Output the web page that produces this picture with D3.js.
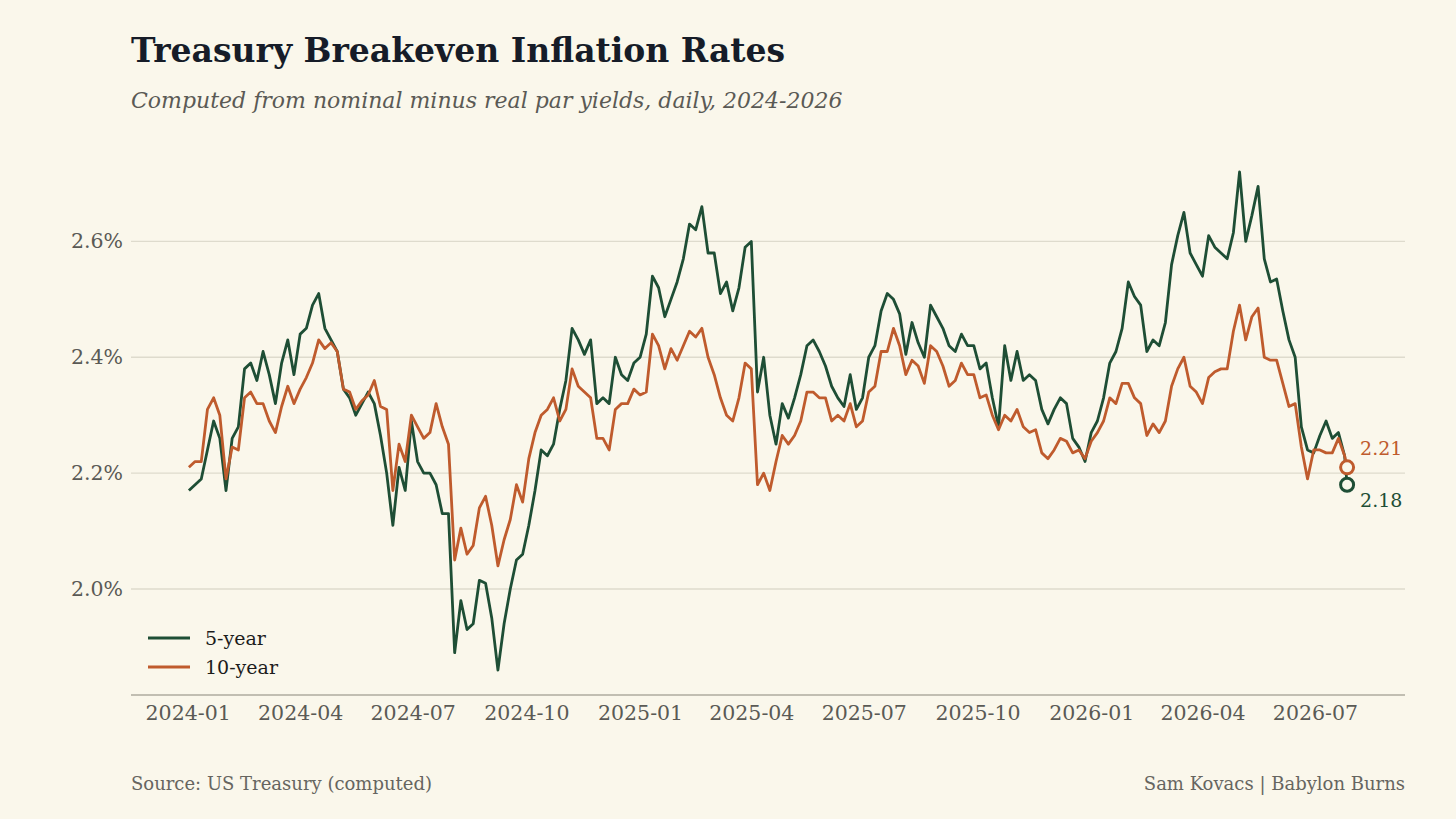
<!DOCTYPE html>
<html><head><meta charset="utf-8">
<script src="https://cdn.jsdelivr.net/npm/d3@7"></script>
<style>
html,body{margin:0;padding:0;background:#faf7eb;}
svg{display:block;}
text{font-family:"DejaVu Serif",serif;}
</style></head><body>
<svg id="chart" width="1456" height="819"></svg>
<script>
// ---- data ----
const startDate = "2024-01-02";
const stepDays = 5;
const endDate = "2026-07-27";
const seriesNames = ["5-year", "10-year"];
const fiveYear = [
  2.17,2.18,2.19,2.24,2.29,2.26,2.17,2.26,2.28,2.38,
  2.39,2.36,2.41,2.37,2.32,2.39,2.43,2.37,2.44,2.45,
  2.49,2.51,2.45,2.43,2.41,2.345,2.33,2.30,2.32,2.34,
  2.32,2.265,2.20,2.11,2.21,2.17,2.29,2.22,2.20,2.20,
  2.18,2.13,2.13,1.89,1.98,1.93,1.94,2.015,2.01,1.95,
  1.86,1.94,2.00,2.05,2.06,2.11,2.17,2.24,2.23,2.25,
  2.31,2.36,2.45,2.43,2.405,2.43,2.32,2.33,2.32,2.40,
  2.37,2.36,2.39,2.40,2.44,2.54,2.52,2.47,2.50,2.53,
  2.57,2.63,2.62,2.66,2.58,2.58,2.51,2.53,2.48,2.52,
  2.59,2.60,2.34,2.40,2.30,2.25,2.32,2.295,2.33,2.37,
  2.42,2.43,2.41,2.385,2.35,2.33,2.315,2.37,2.31,2.33,
  2.40,2.42,2.48,2.51,2.50,2.475,2.405,2.46,2.425,2.40,
  2.49,2.47,2.45,2.42,2.41,2.44,2.42,2.42,2.38,2.39,
  2.33,2.28,2.42,2.36,2.41,2.36,2.37,2.36,2.31,2.285,
  2.31,2.33,2.32,2.26,2.245,2.22,2.27,2.29,2.33,2.39,
  2.41,2.45,2.53,2.505,2.49,2.41,2.43,2.42,2.46,2.56,
  2.61,2.65,2.58,2.56,2.54,2.61,2.59,2.58,2.57,2.615,
  2.72,2.60,2.645,2.695,2.57,2.53,2.535,2.48,2.43,2.40,
  2.28,2.24,2.235,2.265,2.29,2.26,2.27,2.23,
  2.18
];
const tenYear = [
  2.21,2.22,2.22,2.31,2.33,2.30,2.19,2.245,2.24,2.33,
  2.34,2.32,2.32,2.29,2.27,2.315,2.35,2.32,2.345,2.365,
  2.39,2.43,2.415,2.425,2.41,2.345,2.34,2.31,2.325,2.335,
  2.36,2.315,2.31,2.17,2.25,2.22,2.30,2.28,2.26,2.27,
  2.32,2.28,2.25,2.05,2.105,2.06,2.075,2.14,2.16,2.11,
  2.04,2.085,2.12,2.18,2.15,2.225,2.27,2.30,2.31,2.33,
  2.29,2.31,2.38,2.35,2.34,2.33,2.26,2.26,2.24,2.31,
  2.32,2.32,2.345,2.335,2.34,2.44,2.42,2.38,2.415,2.395,
  2.42,2.445,2.435,2.45,2.40,2.37,2.33,2.30,2.29,2.33,
  2.39,2.38,2.18,2.20,2.17,2.22,2.265,2.25,2.265,2.29,
  2.34,2.34,2.33,2.33,2.29,2.30,2.29,2.32,2.28,2.29,
  2.34,2.35,2.41,2.41,2.45,2.42,2.37,2.395,2.385,2.355,
  2.42,2.41,2.385,2.35,2.36,2.39,2.37,2.37,2.33,2.335,
  2.30,2.275,2.30,2.29,2.31,2.28,2.27,2.275,2.235,2.225,
  2.24,2.26,2.255,2.235,2.24,2.225,2.255,2.27,2.29,2.33,
  2.32,2.355,2.355,2.33,2.32,2.265,2.285,2.27,2.29,2.35,
  2.38,2.40,2.35,2.34,2.32,2.365,2.375,2.38,2.38,2.445,
  2.49,2.43,2.47,2.485,2.40,2.395,2.395,2.355,2.315,2.32,
  2.245,2.19,2.24,2.24,2.235,2.235,2.26,2.23,
  2.21
];
const yTicks = [2.0, 2.2, 2.4, 2.6];
const xTickLabels = ["2024-01","2024-04","2024-07","2024-10","2025-01","2025-04","2025-07","2025-10","2026-01","2026-04","2026-07"];

const titleText = "Treasury Breakeven Inflation Rates";
const subtitleText = "Computed from nominal minus real par yields, daily, 2024-2026";
const sourceText = "Source: US Treasury (computed)";
const creditText = "Sam Kovacs | Babylon Burns";

// ---- styles ----
const colors = ["#1e4e35", "#bf5b2d"];
const bg = "#faf7eb";
const plot = {left: 131, right: 1405, top: 147, bottom: 695};

const parseDay = d3.utcParse("%Y-%m-%d");
const parseMonth = d3.utcParse("%Y-%m");
const start = parseDay(startDate);
const dates = fiveYear.map((_, i) => i === fiveYear.length - 1 ? parseDay(endDate) : d3.utcDay.offset(start, i * stepDays));
const series = [fiveYear, tenYear].map((vals, k) => ({
  name: seriesNames[k], color: colors[k],
  points: vals.map((v, i) => ({date: dates[i], value: v}))
}));

const svg = d3.select("#chart");
svg.append("rect").attr("width", 1456).attr("height", 819).attr("fill", bg);

// scales with 5% margins
const xExt = d3.extent(dates);
const xSpan = xExt[1] - xExt[0];
const x = d3.scaleUtc()
  .domain([new Date(+xExt[0] - 0.05 * xSpan), new Date(+xExt[1] + 0.05 * xSpan)])
  .range([plot.left, plot.right]);
const allVals = fiveYear.concat(tenYear);
const yExt = d3.extent(allVals);
const ySpan = yExt[1] - yExt[0];
const y = d3.scaleLinear()
  .domain([yExt[0] - 0.05 * ySpan, yExt[1] + 0.05 * ySpan])
  .range([plot.bottom, plot.top]);

// title
svg.append("text").attr("x", 131).attr("y", 62)
  .attr("font-size", 33).attr("font-weight", "bold").attr("fill", "#161c28")
  .text(titleText);
svg.append("text").attr("x", 131).attr("y", 108)
  .attr("font-size", 22).attr("font-style", "italic").attr("fill", "#5a5a55")
  .text(subtitleText);

// grid + y axis
const yAxis = d3.axisLeft(y).tickValues(yTicks).tickSize(0).tickPadding(8)
  .tickFormat(d => d3.format(".1f")(d) + "%");
const gy = svg.append("g").attr("transform", `translate(${plot.left},0)`).call(yAxis);
gy.select(".domain").remove();
gy.selectAll("text").attr("font-family", "DejaVu Serif").attr("font-size", 20.5).attr("fill", "#5a5a55");
svg.append("g").selectAll("line").data(yTicks).join("line")
  .attr("x1", plot.left).attr("x2", plot.right)
  .attr("y1", d => y(d)).attr("y2", d => y(d))
  .attr("stroke", "#dedbcd").attr("stroke-width", 1.4);

// x axis
const xAxis = d3.axisBottom(x).tickValues(xTickLabels.map(parseMonth)).tickSize(0).tickPadding(10)
  .tickFormat(d3.utcFormat("%Y-%m"));
const gx = svg.append("g").attr("transform", `translate(0,${plot.bottom})`).call(xAxis);
gx.select(".domain").attr("stroke", "#aeab9f").attr("stroke-width", 1.4)
  .attr("d", `M${plot.left},0H${plot.right}`);
gx.selectAll("text").attr("font-family", "DejaVu Serif").attr("font-size", 20.5).attr("fill", "#5a5a55");

// lines
const line = d3.line().x(d => x(d.date)).y(d => y(d.value));
svg.append("g").selectAll("path").data(series).join("path")
  .attr("d", d => line(d.points))
  .attr("fill", "none").attr("stroke", d => d.color)
  .attr("stroke-width", 2.8).attr("stroke-linejoin", "round");

// end markers + labels
series.forEach((s, k) => {
  const last = s.points[s.points.length - 1];
  const cx = x(last.date), cy = y(last.value);
  svg.append("circle").attr("cx", cx).attr("cy", cy).attr("r", 6.5)
    .attr("fill", bg).attr("stroke", s.color).attr("stroke-width", 3);
  svg.append("text").attr("x", cx + 13).attr("y", k === 0 ? cy + 22 : cy - 12)
    .attr("font-size", 19).attr("fill", s.color)
    .text(d3.format(".2f")(last.value));
});

// legend
const lg = svg.append("g").attr("transform", "translate(148,638)");
series.forEach((s, k) => {
  const g = lg.append("g").attr("transform", `translate(0,${k * 29})`);
  g.append("line").attr("x1", 0).attr("x2", 42).attr("stroke", s.color).attr("stroke-width", 3);
  g.append("text").attr("x", 57).attr("y", 7).attr("font-size", 19).attr("fill", "#1c1c1c").text(s.name);
});

// footer
svg.append("text").attr("x", 131).attr("y", 790).attr("font-size", 18).attr("fill", "#666560").text(sourceText);
svg.append("text").attr("x", 1405).attr("y", 790).attr("text-anchor", "end")
  .attr("font-size", 18).attr("fill", "#666560").text(creditText);
</script>
</body></html>
